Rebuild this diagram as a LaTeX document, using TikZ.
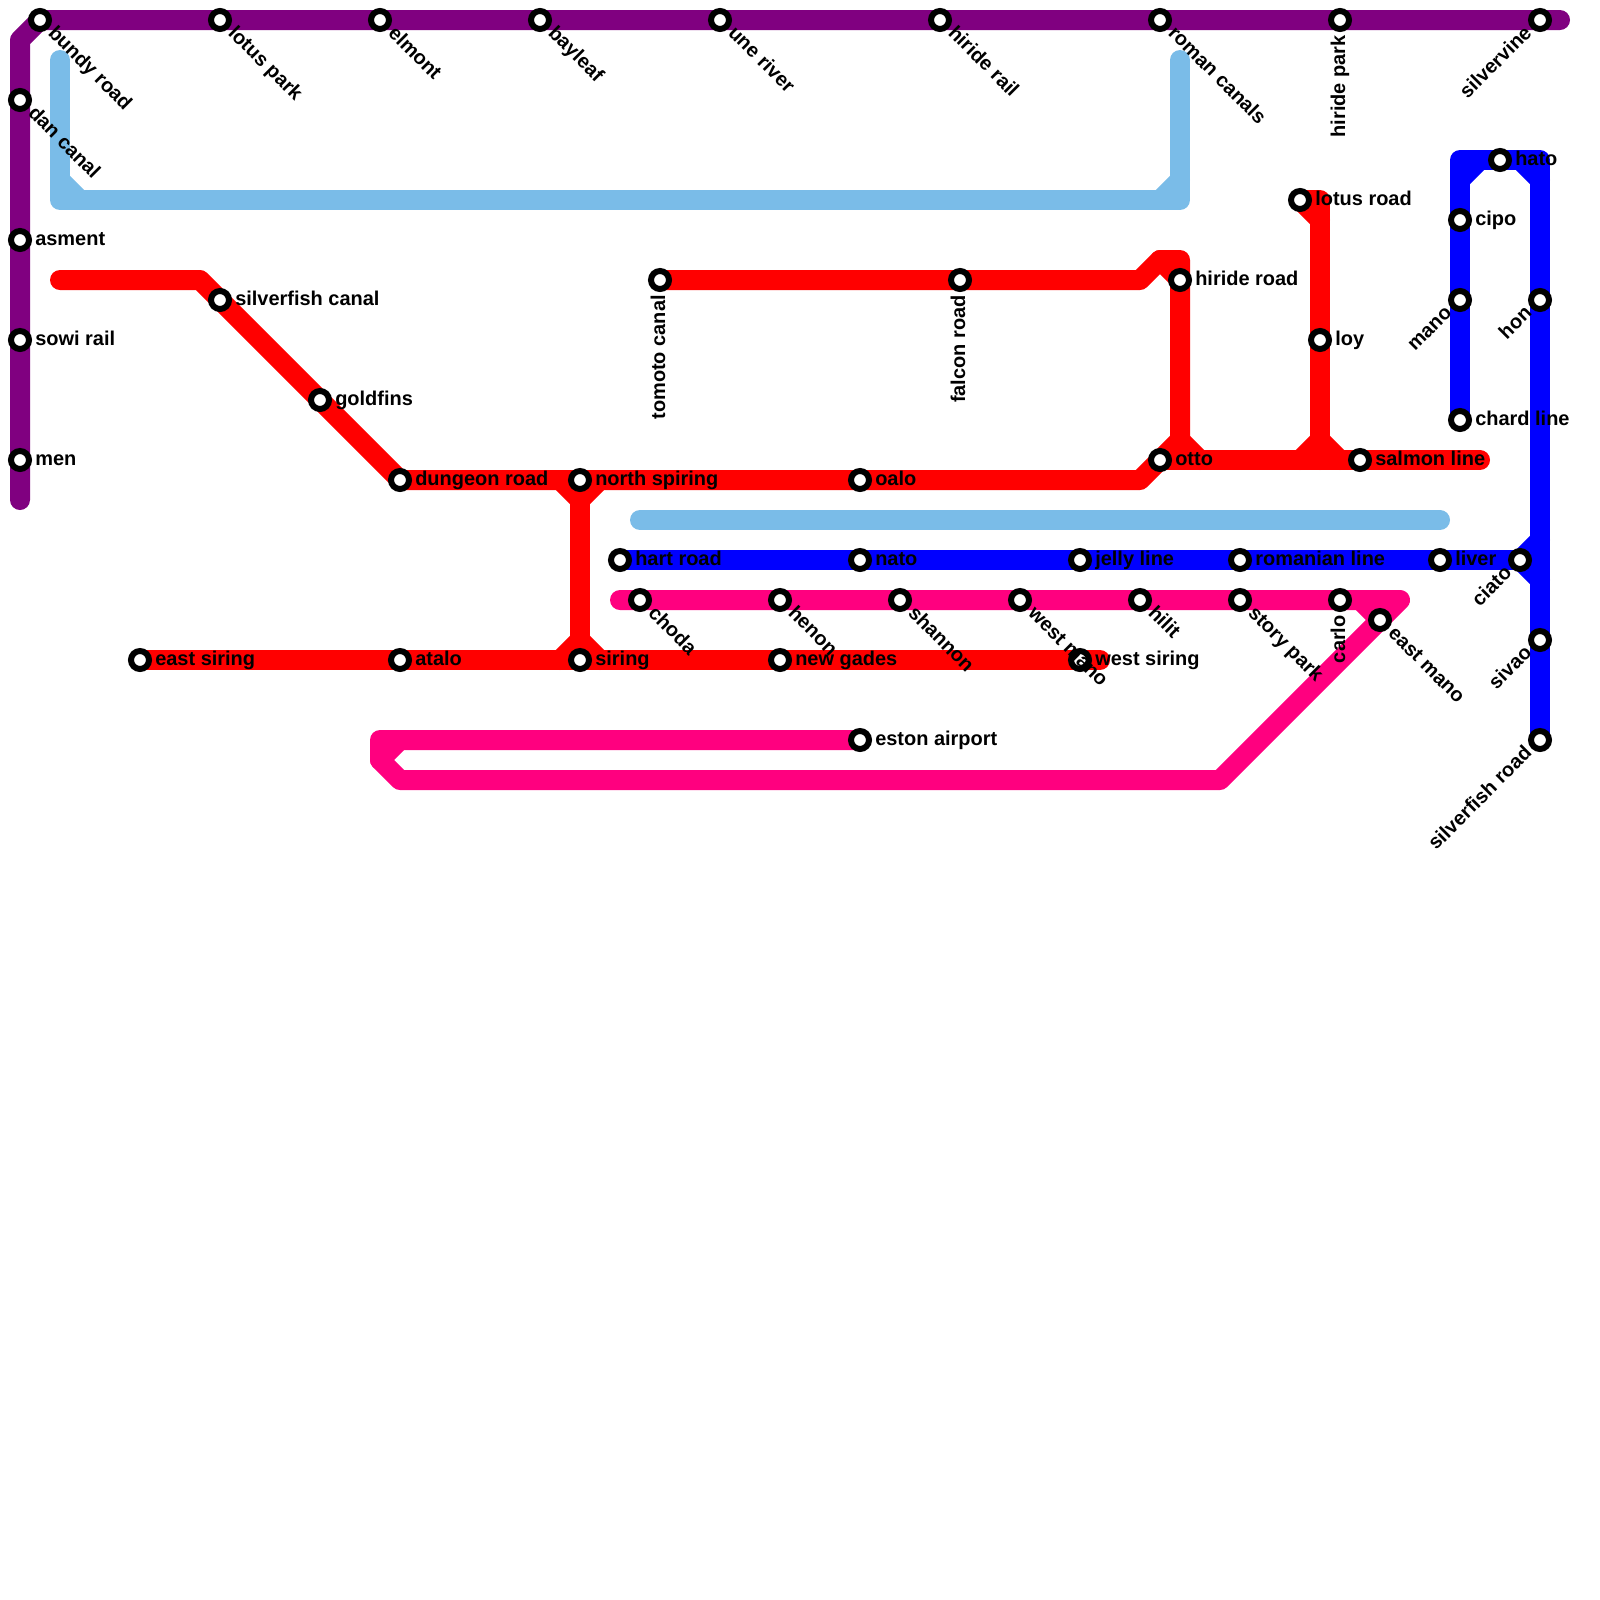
\documentclass[tikz,border=0pt]{standalone}
\usepackage{fontspec}
\setmainfont{Liberation Sans}
\usetikzlibrary{backgrounds}
\definecolor{skyblue}{HTML}{7ABCE8}
\definecolor{hotpink}{HTML}{FF007F}
\definecolor{plum}{HTML}{800080}
\tikzset{
  metro/.style={line width=0.5cm, line cap=round, line join=round},
  stop/.style={circle, draw=black, fill=white, line width=0.15cm, minimum size=0.45cm, inner sep=0pt},
  tag/.style={inner sep=0pt, font=\bfseries\fontsize{14.2}{14.2}\selectfont, text=black},
  tagright/.style={tag, anchor=base west, xshift=0.375cm, yshift=-0.125cm},
  tagdown/.style={tag, rotate=-45, anchor=base west, xshift=0.375cm, yshift=-0.125cm},
  tagleft/.style={tag, rotate=45, anchor=base east, xshift=-0.375cm, yshift=-0.125cm},
  tagup/.style={tag, rotate=90, anchor=base east, xshift=-0.375cm, yshift=-0.125cm}
}
\begin{document}
\begin{tikzpicture}[x=0.5cm, y=-0.5cm]
\useasboundingbox (0,0) rectangle (80,80);

% Stations with a label to the right
\foreach \name/\x/\y/\txt in {asment/1/12/asment, sowi/1/17/sowi rail, men/1/23/men,
    silvercanal/11/15/silverfish canal, goldfins/16/20/goldfins, dungeon/20/24/dungeon road,
    nspiring/29/24/north spiring, oalo/43/24/oalo, hiroad/59/14/hiride road, otto/58/23/otto,
    lotusroad/65/10/lotus road, loy/66/17/loy, salmon/68/23/salmon line,
    cipo/73/11/cipo, chard/73/21/chard line, hato/75/8/hato,
    hart/31/28/hart road, nato/43/28/nato, jelly/54/28/jelly line, romanian/62/28/romanian line,
    liver/72/28/liver, esiring/7/33/east siring, atalo/20/33/atalo, siring/29/33/siring,
    gades/39/33/new gades, wsiring/54/33/west siring, eston/43/37/eston airport}
  {\node[stop] (\name) at (\x,\y) {};
   \node[tagright] (\name-tag) at (\x,\y) {\txt};}

% Stations with a label going down to the right
\foreach \name/\x/\y/\txt in {bundy/2/1/bundy road, lotuspark/11/1/lotus park, elmont/19/1/elmont,
    bayleaf/27/1/bayleaf, une/36/1/une river, hirail/47/1/hiride rail, roman/58/1/roman canals,
    dan/1/5/dan canal, choda/32/30/choda, henon/39/30/henon, shannon/45/30/shannon,
    wmano/51/30/west mano, hilit/57/30/hilit, story/62/30/story park, emano/69/31/east mano}
  {\node[stop] (\name) at (\x,\y) {};
   \node[tagdown] (\name-tag) at (\x,\y) {\txt};}

% Stations with a label going down to the left
\foreach \name/\x/\y/\txt in {silvervine/77/1/silvervine, mano/73/15/mano, hon/77/15/hon,
    ciato/76/28/ciato, sivao/77/32/sivao, silverroad/77/37/silverfish road}
  {\node[stop] (\name) at (\x,\y) {};
   \node[tagleft] (\name-tag) at (\x,\y) {\txt};}

% Stations with an upright label
\foreach \name/\x/\y/\txt in {hipark/67/1/hiride park, tomoto/33/14/tomoto canal,
    falcon/48/14/falcon road, carlo/67/30/carlo}
  {\node[stop] (\name) at (\x,\y) {};
   \node[tagup] (\name-tag) at (\x,\y) {\txt};}

\begin{pgfonlayer}{background}
% Purple line
\draw[metro, draw=plum] (1,25) -- (1,2) -- (bundy.center) -- (78,1);

% Sky lines
\draw[metro, draw=skyblue] (3,3) -- (3,10) -- (59,10) -- (59,3);
\draw[metro, draw=skyblue] (3,9) -- (4,10);
\draw[metro, draw=skyblue] (58,10) -- (59,9);
\draw[metro, draw=skyblue] (32,26) -- (72,26);

% Red lines
\draw[metro, red] (3,14) -- (10,14) -- (dungeon.center) -- (oalo.center) -- (57,24) -- (otto.center) -- (59,22) -- (59,13) -- (58,13) -- (57,14) -- (tomoto.center);
\draw[metro, red] (58,13) -- (hiroad.center);
\draw[metro, red] (otto.center) -- (74,23);
\draw[metro, red] (59,22) -- (60,23);
\draw[metro, red] (lotusroad.center) -- (66,10) -- (66,23);
\draw[metro, red] (lotusroad.center) -- (66,11);
\draw[metro, red] (65,23) -- (66,22) -- (67,23);
\draw[metro, red] (nspiring.center) -- (siring.center);
\draw[metro, red] (28,24) -- (29,25) -- (30,24);
\draw[metro, red] (28,33) -- (29,32) -- (30,33);
\draw[metro, red] (esiring.center) -- (55,33);

% Blue lines
\draw[metro, blue] (hart.center) -- (ciato.center);
\draw[metro, blue] (chard.center) -- (73,8) -- (77,8) -- (silverroad.center);
\draw[metro, blue] (73,9) -- (74,8);
\draw[metro, blue] (76,8) -- (77,9);
\draw[metro, blue] (77,27) -- (ciato.center) -- (77,29);

% Pink line
\draw[metro, draw=hotpink] (31,30) -- (70,30) -- (61,39) -- (20,39) -- (19,38) -- (19,37) -- (eston.center);
\draw[metro, draw=hotpink] (19,38) -- (20,37);
\draw[metro, draw=hotpink] (68,30) -- (emano.center);
\end{pgfonlayer}
\end{tikzpicture}
\end{document}
